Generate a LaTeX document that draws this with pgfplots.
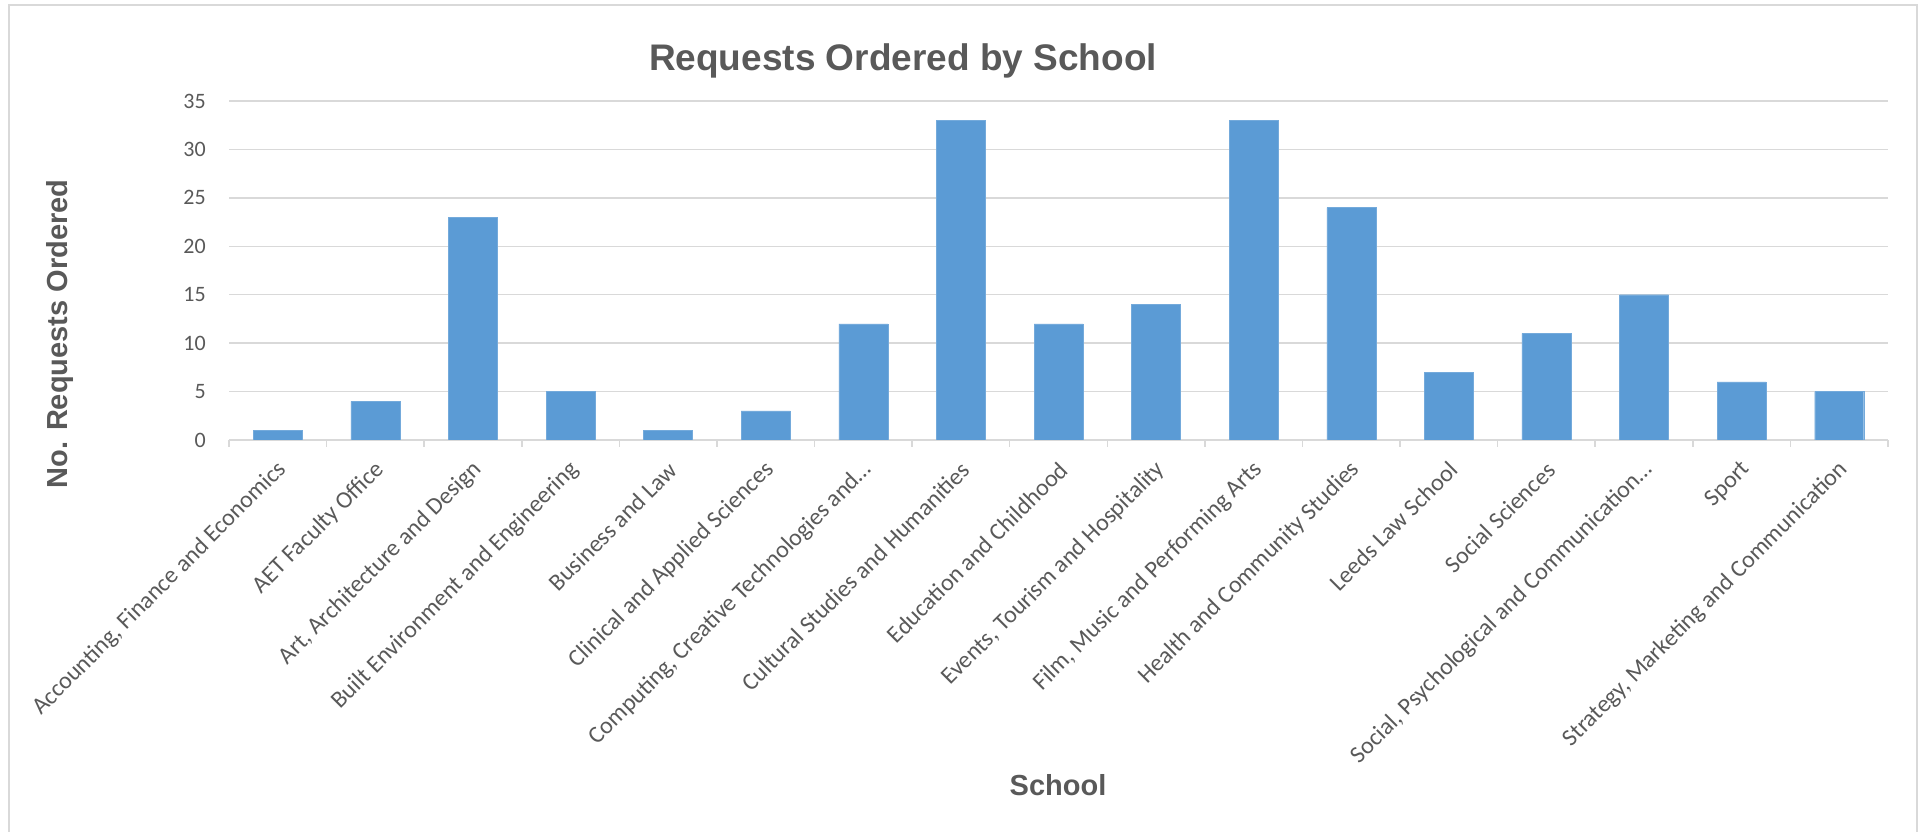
\documentclass[border=0pt]{standalone}
\usepackage{pgfplots}
\pgfplotsset{compat=1.18}
\usepackage{fontspec}
\setmainfont{Carlito}
\newfontfamily\arialfont{Liberation Sans}
\definecolor{barblue}{HTML}{5B9BD5}
\definecolor{txtgray}{HTML}{595959}
\definecolor{gridgray}{HTML}{D9D9D9}
\begin{document}
\begin{tikzpicture}[x=1pt,y=1pt]
\path[use as bounding box] (0,0) rectangle (1921,832);
\draw[gridgray, line width=1.5pt] (9,-2) -- (9,827) -- (1917,827) -- (1917,-2);
\begin{axis}[
  at={(229pt,392pt)}, anchor=south west,
  scale only axis, width=1659pt, height=339pt,
  ybar, bar width=49pt,
  xmin=-0.5, xmax=16.5, ymin=0, ymax=35,
  ytick={0,5,...,35},
  xtick={0,...,16},
  xticklabels={{Accounting, Finance and Economics},{AET Faculty Office},{Art, Architecture and Design},{Built Environment and Engineering},{Business and Law},{Clinical and Applied Sciences},{Computing, Creative Technologies and\dots},{Cultural Studies and Humanities},{Education and Childhood},{Events, Tourism and Hospitality},{Film, Music and Performing Arts},{Health and Community Studies},{Leeds Law School},{Social Sciences},{Social, Psychological and Communication\dots},{Sport},{Strategy, Marketing and Communication}},
  extra x ticks={-0.5,0.5,...,16.5},
  extra x tick labels={},
  extra x tick style={major tick length=7pt, tick align=outside, tick style={gridgray, line width=1.5pt}},
  major tick length=0pt,
  axis x line*=bottom, axis y line*=left,
  x axis line style={gridgray, line width=1.5pt},
  y axis line style={draw=none},
  ymajorgrids, grid style={gridgray, line width=1.5pt},
  ytick style={draw=none},
  tick label style={text=txtgray},
  yticklabel style={font=\fontsize{22}{26}\selectfont, anchor=east, inner sep=0pt, xshift=-23pt},
  xticklabel style={font=\fontsize{24}{28}\selectfont, xshift=5pt, yshift=-26pt, rotate=45, anchor=east, inner sep=0pt},
  /pgf/number format/assume math mode=true,
]
\addplot[fill=barblue, draw=barblue!85!white] coordinates {
(0,1) (1,4) (2,23) (3,5) (4,1) (5,3) (6,12) (7,33) (8,12) (9,14) (10,33) (11,24) (12,7) (13,11) (14,15) (15,6) (16,5)};
\end{axis}
\node[text=txtgray, font=\arialfont\bfseries\fontsize{37}{44}\selectfont] at (903,771) {Requests Ordered by School};
\node[text=txtgray, font=\arialfont\bfseries\fontsize{29}{34}\selectfont, rotate=90] at (60,498) {No. Requests Ordered};
\node[text=txtgray, font=\arialfont\bfseries\fontsize{29}{34}\selectfont] at (1058,47) {School};
\end{tikzpicture}
\end{document}
